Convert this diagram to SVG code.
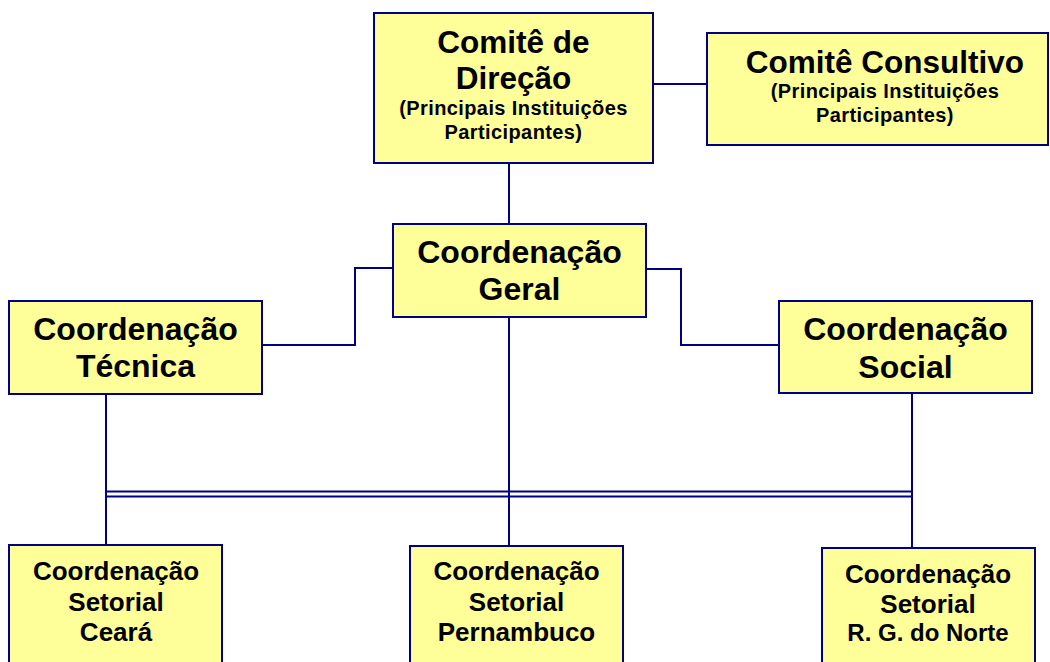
<svg xmlns="http://www.w3.org/2000/svg" width="1050" height="662" viewBox="0 0 1050 662">
<style>
.box{fill:#FFFF99;stroke:#000080;stroke-width:2}
.ln{fill:none;stroke:#000080;stroke-width:2}
text{font-family:"Liberation Sans",Arial,sans-serif;font-weight:bold;fill:#000;text-anchor:middle}
.t30{font-size:31.5px}
.t31{font-size:32px}
.t17{font-size:20px;letter-spacing:0.4px}
.t26{font-size:26px}
.t24{font-size:24px}
</style>
<rect width="1050" height="662" fill="#fff"/>
<g id="connectors">
<line class="ln" x1="653" y1="84" x2="707" y2="84"/>
<line class="ln" x1="509" y1="163" x2="509" y2="224"/>
<polyline class="ln" points="262,345 355,345 355,268 393,268"/>
<polyline class="ln" points="646,269 681,269 681,345 779,345"/>
<line class="ln" x1="509" y1="317" x2="509" y2="546"/>
<line class="ln" x1="106" y1="394" x2="106" y2="545"/>
<line class="ln" x1="912" y1="393" x2="912" y2="548"/>
<line class="ln" x1="106" y1="491.5" x2="912" y2="491.5"/>
<line class="ln" x1="106" y1="496.5" x2="912" y2="496.5"/>
</g>
<g id="comite-direcao">
<rect class="box" x="374" y="13" width="279" height="150"/>
<text class="t30" x="513.5" y="53">Comitê de</text>
<text class="t30" x="513.5" y="89">Direção</text>
<text class="t17" x="513.5" y="115">(Principais Instituições</text>
<text class="t17" x="513.5" y="139">Participantes)</text>
</g>
<g id="comite-consultivo">
<rect class="box" x="707" y="33" width="341" height="112"/>
<text class="t30" x="885" y="73">Comitê Consultivo</text>
<text class="t17" x="885" y="98">(Principais Instituições</text>
<text class="t17" x="885" y="122">Participantes)</text>
</g>
<g id="coord-geral">
<rect class="box" x="393" y="224" width="253" height="93"/>
<text class="t31" x="519.5" y="263">Coordenação</text>
<text class="t31" x="519.5" y="300">Geral</text>
</g>
<g id="coord-tecnica">
<rect class="box" x="9" y="301" width="253" height="93"/>
<text class="t31" x="135.5" y="340">Coordenação</text>
<text class="t31" x="135.5" y="377">Técnica</text>
</g>
<g id="coord-social">
<rect class="box" x="779" y="301" width="253" height="92"/>
<text class="t31" x="905.5" y="340">Coordenação</text>
<text class="t31" x="905.5" y="378">Social</text>
</g>
<g id="setorial-ceara">
<rect class="box" x="9" y="545" width="213" height="140"/>
<text class="t26" x="116" y="580">Coordenação</text>
<text class="t26" x="116" y="611">Setorial</text>
<text class="t26" x="116" y="641">Ceará</text>
</g>
<g id="setorial-pernambuco">
<rect class="box" x="410" y="546" width="213" height="140"/>
<text class="t26" x="516.5" y="580">Coordenação</text>
<text class="t26" x="516.5" y="611">Setorial</text>
<text class="t26" x="516.5" y="641">Pernambuco</text>
</g>
<g id="setorial-rgnorte">
<rect class="box" x="822" y="548" width="213" height="140"/>
<text class="t26" x="928" y="583">Coordenação</text>
<text class="t26" x="928" y="613">Setorial</text>
<text class="t24" x="928" y="641">R. G. do Norte</text>
</g>
</svg>
